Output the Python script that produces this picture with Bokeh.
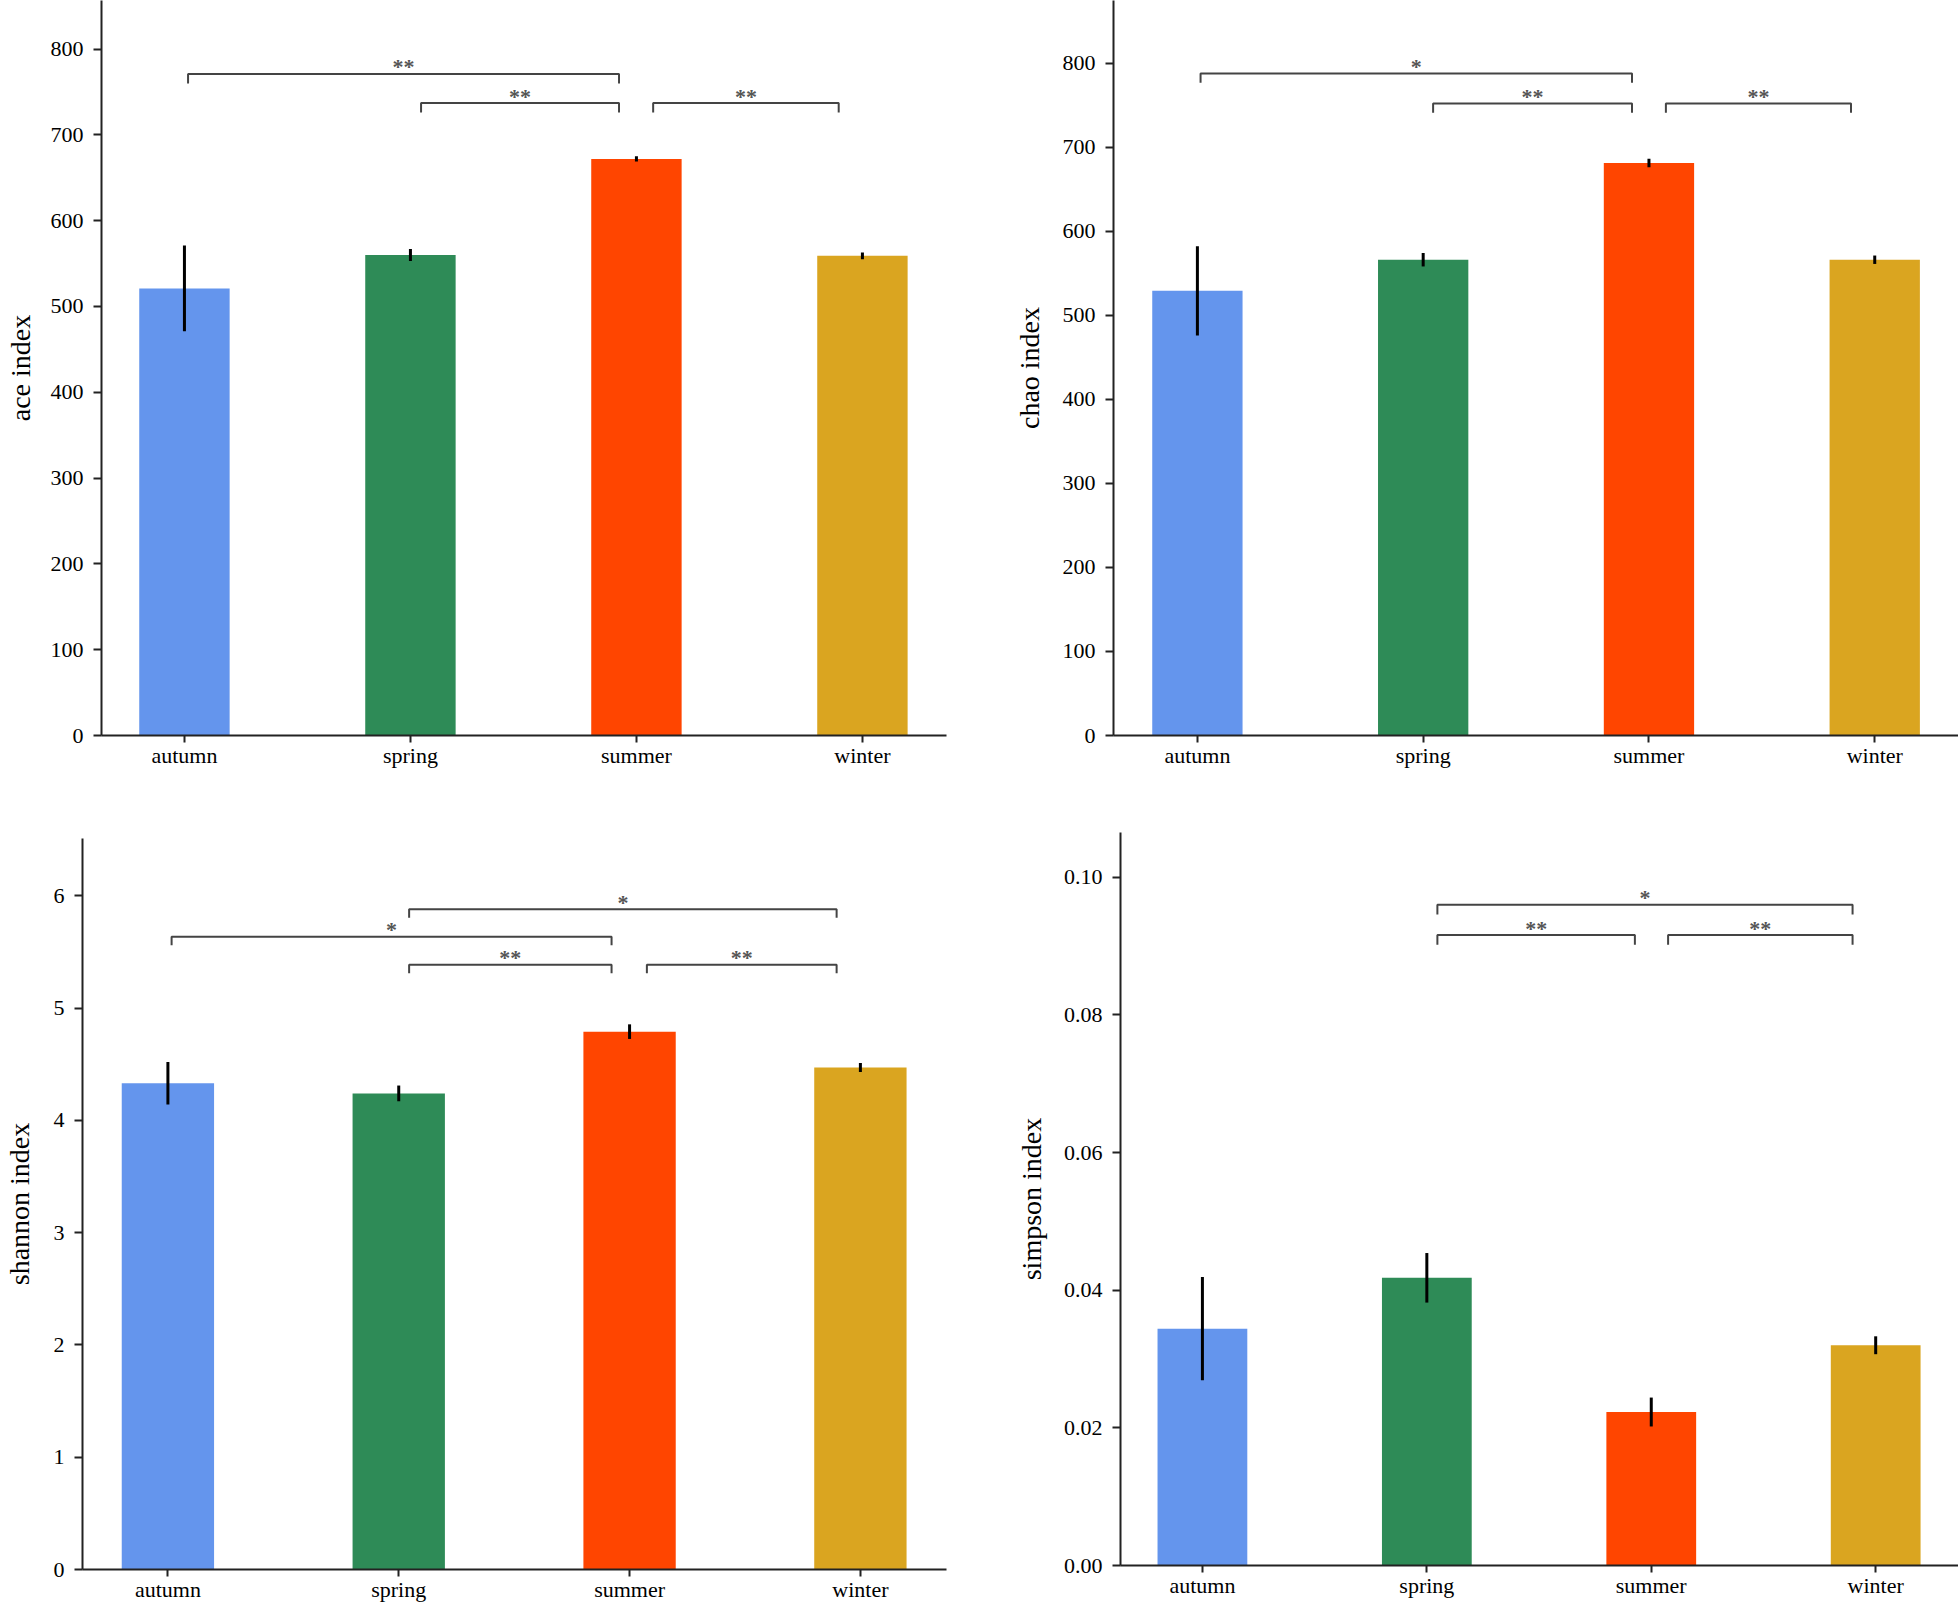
from bokeh.plotting import figure
from bokeh.layouts import column, row
from bokeh.models import Range1d, FixedTicker, NumeralTickFormatter, ColumnDataSource
from bokeh.core.properties import value
from bokeh.embed import file_html
from bokeh.resources import INLINE

FONT = "Liberation Serif"

seasons = ["autumn", "spring", "summer", "winter"]
colors = ["#6495ED", "#2E8B57", "#FF4500", "#DAA520"]
season_pos = [0, 1, 2, 3]

ace_mean = [521, 560, 672, 559]
ace_err = [50, 7, 3, 4]
chao_mean = [529, 566, 681, 566]
chao_err = [53, 8, 5, 5]
shannon_mean = [4.33, 4.24, 4.79, 4.47]
shannon_err = [0.19, 0.07, 0.065, 0.04]
simpson_mean = [0.0344, 0.0418, 0.0223, 0.0320]
simpson_err = [0.0075, 0.0036, 0.0021, 0.0013]

ace_ticks = [0, 100, 200, 300, 400, 500, 600, 700, 800]
chao_ticks = [0, 100, 200, 300, 400, 500, 600, 700, 800]
shannon_ticks = [0, 1, 2, 3, 4, 5, 6]
simpson_ticks = [0.0, 0.02, 0.04, 0.06, 0.08, 0.10]

# significance brackets: start / end position, height, label
ace_br_x0 = [0.016, 1.047, 2.074]
ace_br_x1 = [1.923, 1.923, 2.895]
ace_br_y = [771, 737, 737]
ace_br_lab = ["**", "**", "**"]

chao_br_x0 = [0.014, 1.044, 2.075]
chao_br_x1 = [1.925, 1.925, 2.895]
chao_br_y = [787.6, 752, 752]
chao_br_lab = ["*", "**", "**"]

shannon_br_x0 = [1.045, 0.016, 1.045, 2.075]
shannon_br_x1 = [2.897, 1.922, 1.922, 2.897]
shannon_br_y = [5.88, 5.635, 5.385, 5.385]
shannon_br_lab = ["*", "*", "**", "**"]

simpson_br_x0 = [1.047, 1.047, 2.075]
simpson_br_x1 = [2.897, 1.927, 2.897]
simpson_br_y = [0.0960, 0.0916, 0.0916]
simpson_br_lab = ["*", "**", "**"]


def make_panel(means, errs, ylabel, yend, yticks, bx0, bx1, by, blab, bdepth,
               width, height, mbl, mbr, mbt, mbb, xr, fmt=None, lab_standoff=14):
    p = figure(width=width, height=height, output_backend="svg", toolbar_location=None,
               x_range=Range1d(xr[0], xr[1]), y_range=Range1d(0, yend),
               min_border_left=mbl, min_border_right=mbr, min_border_top=mbt,
               min_border_bottom=mbb)
    p.outline_line_color = None
    p.xgrid.visible = False
    p.ygrid.visible = False
    p.background_fill_color = "white"
    p.border_fill_color = "white"

    src = ColumnDataSource(dict(x=season_pos, top=means, color=colors,
                                lo=[m - e for m, e in zip(means, errs)],
                                hi=[m + e for m, e in zip(means, errs)]))
    p.vbar(x="x", top="top", width=0.4, bottom=0, fill_color="color", line_color=None, source=src)
    p.segment(x0="x", y0="lo", x1="x", y1="hi", line_color="black", line_width=3, source=src)

    xs = [[a, a, b, b] for a, b in zip(bx0, bx1)]
    ys = [[y - bdepth, y, y, y - bdepth] for y in by]
    p.multi_line(xs=xs, ys=ys, line_color="#444444", line_width=2)
    p.text(x=[(a + b) / 2 for a, b in zip(bx0, bx1)], y=by, text=blab,
           text_font=value(FONT), text_font_size="22px", text_font_style="bold",
           text_color="#555555", text_align="center", text_baseline="alphabetic",
           y_offset=-7)

    for ax in (p.xaxis[0], p.yaxis[0]):
        ax.axis_line_width = 2
        ax.axis_line_color = "#222222"
        ax.major_tick_line_width = 2
        ax.major_tick_line_color = "#222222"
        ax.major_tick_in = 0
        ax.major_tick_out = 8
        ax.minor_tick_line_color = None
        ax.major_label_text_font = FONT
        ax.major_label_text_font_size = "22px"
        ax.major_label_text_color = "black"

    p.xaxis.ticker = FixedTicker(ticks=season_pos)
    p.xaxis.major_label_overrides = {i: s for i, s in zip(season_pos, seasons)}
    p.xaxis.major_label_standoff = 0
    p.xaxis.major_tick_out = 7

    p.yaxis.ticker = FixedTicker(ticks=yticks)
    if fmt:
        p.yaxis.formatter = NumeralTickFormatter(format=fmt)
    p.yaxis.major_label_standoff = 10
    p.yaxis.axis_label = ylabel
    p.yaxis.axis_label_text_font = FONT
    p.yaxis.axis_label_text_font_size = "28px"
    p.yaxis.axis_label_text_font_style = "normal"
    p.yaxis.axis_label_text_color = "black"
    p.yaxis.axis_label_standoff = lab_standoff
    return p


p1 = make_panel(ace_mean, ace_err, "ace index", 856.6, ace_ticks,
                ace_br_x0, ace_br_x1, ace_br_y, ace_br_lab, 11,
                960, 800, 101, 14, 0, 65, (-0.367, 3.372), lab_standoff=12)
p2 = make_panel(chao_mean, chao_err, "chao index", 874.4, chao_ticks,
                chao_br_x0, chao_br_x1, chao_br_y, chao_br_lab, 11,
                998, 800, 153, 0, 0, 65, (-0.3716, 3.371), lab_standoff=15)
p3 = make_panel(shannon_mean, shannon_err, "shannon index", 6.51, shannon_ticks,
                shannon_br_x0, shannon_br_x1, shannon_br_y, shannon_br_lab, 0.075,
                960, 804, 78, 14, 38, 35, (-0.370, 3.373), lab_standoff=16)
p4 = make_panel(simpson_mean, simpson_err, "simpson index", 0.1065, simpson_ticks,
                simpson_br_x0, simpson_br_x1, simpson_br_y, simpson_br_lab, 0.0014,
                998, 804, 160, 0, 32, 39, (-0.365, 3.369), fmt="0.00", lab_standoff=14)

layout = column(row(column(p1), column(p2)), row(column(p3), column(p4)))
open("out.html", "w").write(file_html(layout, INLINE))
